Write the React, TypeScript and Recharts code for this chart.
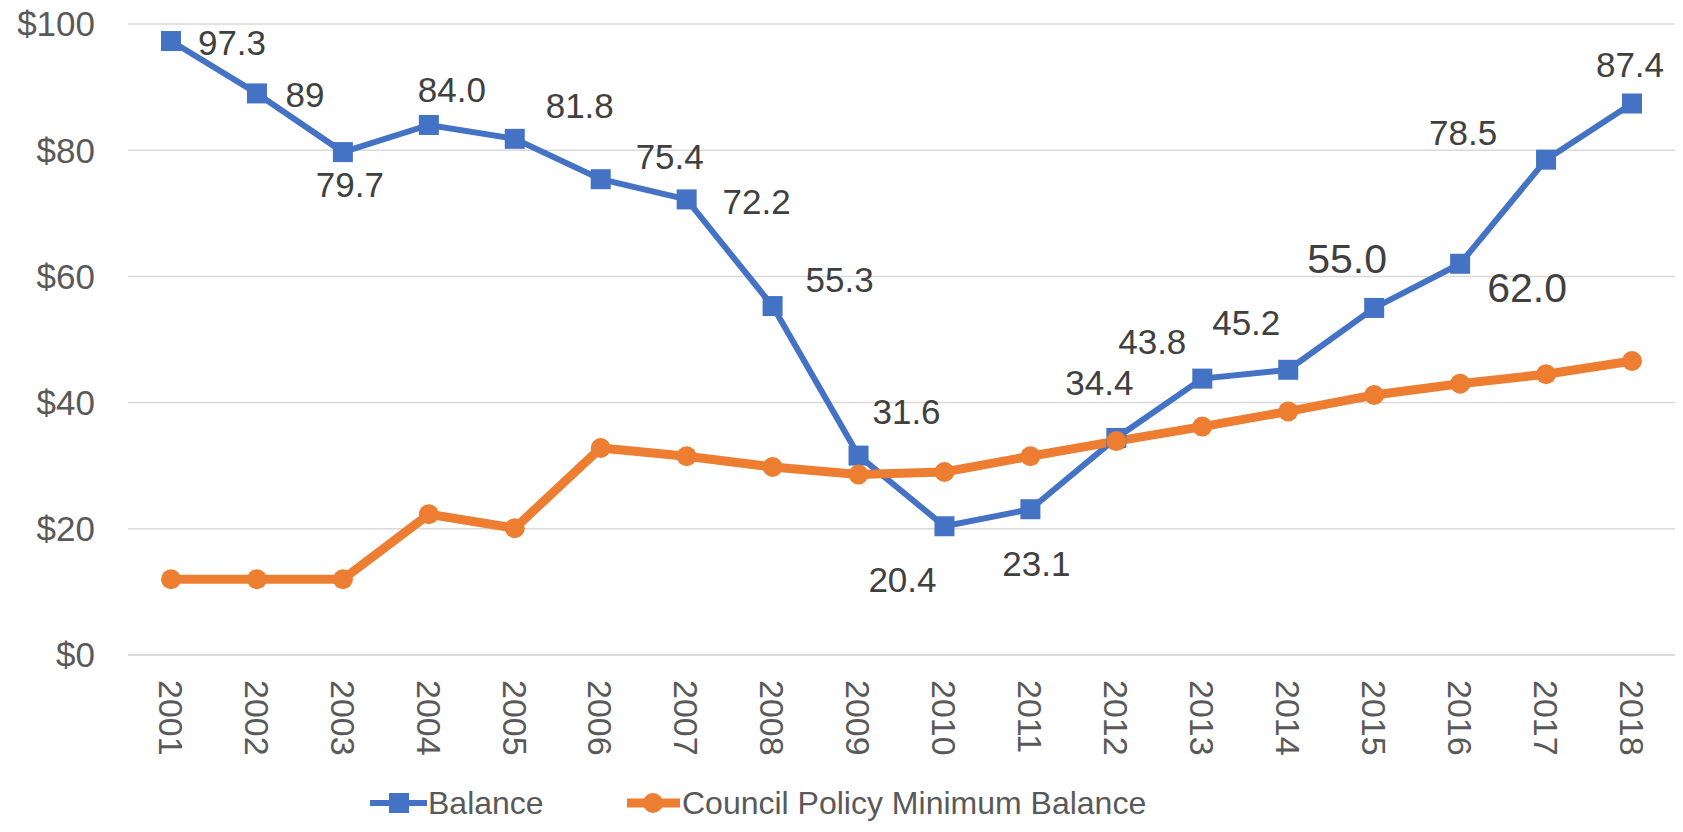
import { LineChart, Line, XAxis, YAxis, CartesianGrid, Legend, LabelList } from 'recharts';

const years = ['2001', '2002', '2003', '2004', '2005', '2006', '2007', '2008', '2009', '2010', '2011', '2012', '2013', '2014', '2015', '2016', '2017', '2018'];
const balance = [97.3, 89, 79.7, 84.0, 81.8, 75.4, 72.2, 55.3, 31.6, 20.4, 23.1, 34.4, 43.8, 45.2, 55.0, 62.0, 78.5, 87.4];
const balanceLabels = ['97.3', '89', '79.7', '84.0', '81.8', '75.4', '72.2', '55.3', '31.6', '20.4', '23.1', '34.4', '43.8', '45.2', '55.0', '62.0', '78.5', '87.4'];
const policyMinimum = [12.0, 12.0, 12.0, 22.3, 20.1, 32.8, 31.5, 29.8, 28.6, 29.0, 31.5, 33.9, 36.2, 38.6, 41.2, 43.0, 44.5, 46.6];
const yTicks = [0, 20, 40, 60, 80, 100];

// where each balance label sits relative to its point (text centre), and its size
const labelPlacement = [
  { dx: 61, dy: 1, size: 35 },
  { dx: 48, dy: 1, size: 35 },
  { dx: 7, dy: 32, size: 35 },
  { dx: 23, dy: -36, size: 35 },
  { dx: 65, dy: -33, size: 35 },
  { dx: 69, dy: -23, size: 35 },
  { dx: 70, dy: 2, size: 35 },
  { dx: 67, dy: -27, size: 35 },
  { dx: 48, dy: -44, size: 35 },
  { dx: -42, dy: 53, size: 35 },
  { dx: 6, dy: 54, size: 35 },
  { dx: -17, dy: -56, size: 35 },
  { dx: -50, dy: -37, size: 35 },
  { dx: -42, dy: -47, size: 35 },
  { dx: -27, dy: -50, size: 41 },
  { dx: 67, dy: 23, size: 41 },
  { dx: -83, dy: -27, size: 35 },
  { dx: -2, dy: -39, size: 35 },
];

const BLUE = '#4472C4';
const ORANGE = '#ED7D31';
const FONT = '"Liberation Sans", Arial, sans-serif';

const chartData = years.map((year, i) => ({
  year,
  balance: balance[i],
  minimum: policyMinimum[i],
}));

function SquareDot(props: any) {
  const { cx, cy, index } = props;
  if (cx == null || cy == null) return null;
  return <rect key={`sq-${index}`} x={cx - 10} y={cy - 10} width={20} height={20} fill={BLUE} />;
}

function BalanceLabel(props: any) {
  const { x, y, index } = props;
  const p = labelPlacement[index];
  return (
    <text
      x={x + p.dx}
      y={y + p.dy}
      dy="0.36em"
      textAnchor="middle"
      fill="#404040"
      fontSize={p.size}
      fontFamily={FONT}
    >
      {balanceLabels[index]}
    </text>
  );
}

function YearTick(props: any) {
  const { x, y, payload } = props;
  return (
    <g transform={`translate(${x},${y})`}>
      <text transform="rotate(90)" x={17} dy="0.36em" textAnchor="start" fill="#595959" fontSize={34} fontFamily={FONT}>
        {payload.value}
      </text>
    </g>
  );
}

function ChartLegend() {
  const textStyle = { position: 'absolute' as const, top: 5, fontSize: 32, color: '#595959', fontFamily: FONT, lineHeight: '40px' };
  return (
    <div style={{ position: 'relative', width: 1683, height: 50 }}>
      <svg style={{ position: 'absolute', left: 0, top: 0 }} width={1683} height={50}>
        <line x1={370} y1={25} x2={427} y2={25} stroke={BLUE} strokeWidth={6} />
        <rect x={389} y={15} width={20} height={20} fill={BLUE} />
        <line x1={627} y1={25} x2={680} y2={25} stroke={ORANGE} strokeWidth={9} />
        <circle cx={653} cy={25} r={10} fill={ORANGE} />
      </svg>
      <span style={{ ...textStyle, left: 428 }}>Balance</span>
      <span style={{ ...textStyle, left: 682 }}>Council Policy Minimum Balance</span>
    </div>
  );
}

export default function App() {
  return (
    <div style={{ position: 'absolute', left: 0, top: 0, width: 1683, height: 832, background: '#fff' }}>
      <LineChart
        width={1683}
        height={832}
        data={chartData}
        margin={{ top: 24, right: 8, left: 0, bottom: 4 }}
      >
        <CartesianGrid vertical={false} stroke="#D9D9D9" strokeWidth={1.5} />
        <XAxis
          dataKey="year"
          interval={0}
          height={123}
          padding={{ left: 43, right: 43 }}
          tick={<YearTick />}
          tickLine={false}
          axisLine={{ stroke: '#D9D9D9', strokeWidth: 1.5 }}
        />
        <YAxis
          domain={[0, 100]}
          ticks={yTicks}
          width={128}
          tickLine={false}
          axisLine={false}
          tickMargin={27}
          tickFormatter={(v: number) => `$${v}`}
          tick={{ fill: '#595959', fontSize: 35, fontFamily: FONT }}
        />
        <Legend verticalAlign="bottom" align="left" wrapperStyle={{ left: 0 }} content={() => <ChartLegend />} />
        <Line
          dataKey="balance"
          name="Balance"
          stroke={BLUE}
          strokeWidth={6}
          dot={(p: any) => <SquareDot key={`sq-${p.index}`} {...p} />}
          activeDot={false}
          isAnimationActive={false}
        >
          <LabelList dataKey="balance" content={(p: any) => <BalanceLabel {...p} />} />
        </Line>
        <Line
          dataKey="minimum"
          name="Council Policy Minimum Balance"
          stroke={ORANGE}
          strokeWidth={9}
          dot={{ r: 10, fill: ORANGE, stroke: ORANGE, strokeWidth: 0 }}
          activeDot={false}
          isAnimationActive={false}
        />
      </LineChart>
    </div>
  );
}
